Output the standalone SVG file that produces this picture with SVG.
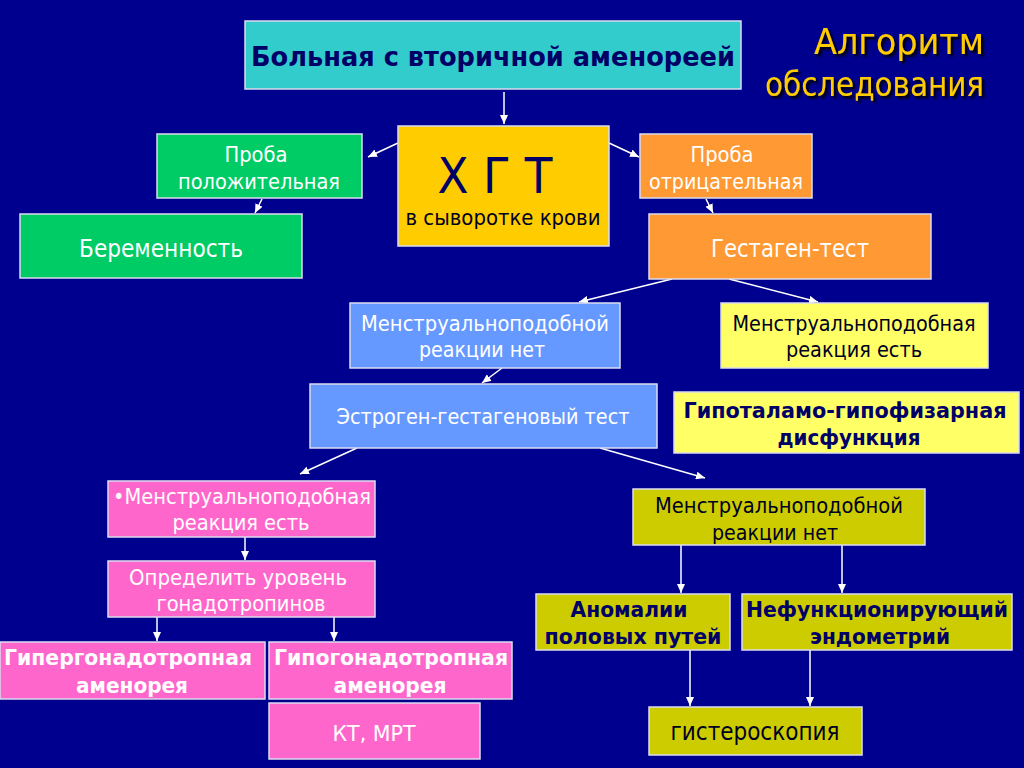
<svg xmlns="http://www.w3.org/2000/svg" width="1024" height="768" viewBox="0 0 1024 768">
<defs>
<marker id="ah" markerUnits="userSpaceOnUse" markerWidth="9" markerHeight="8" refX="9" refY="4" orient="auto">
<path d="M0,0 L9,4 L0,8 z" fill="#ffffff"/>
</marker>
<filter id="sh" x="-10%" y="-20%" width="130%" height="150%">
<feDropShadow dx="2.5" dy="2.5" stdDeviation="0.8" flood-color="#000000" flood-opacity="1"/>
</filter>
</defs>
<style>
.bx{stroke:#dcdcf0;stroke-width:1.5}
.t{font-family:"DejaVu Sans","Noto Sans",sans-serif;text-anchor:middle}
.r19{font-size:21px}
.r22{font-size:24px}
.b20{font-size:21px;font-weight:bold}
.w{fill:#ffffff}
.n{fill:#000066}
.k{fill:#000022}
.cn{stroke:#ffffff;stroke-width:1.5;fill:none;marker-end:url(#ah)}
</style>
<rect width="1024" height="768" fill="#00008e"/>

<g id="title" filter="url(#sh)">
<text class="t" x="984" y="54" style="text-anchor:end;font-size:36px" fill="#ffcc00" textLength="170" lengthAdjust="spacingAndGlyphs">Алгоритм</text>
<text class="t" x="984" y="96" style="text-anchor:end;font-size:33px" fill="#ffcc00" textLength="219" lengthAdjust="spacingAndGlyphs">обследования</text>
</g>

<g id="connectors">
<line class="cn" x1="504" y1="92" x2="504" y2="124"/>
<line class="cn" x1="398" y1="143" x2="368" y2="157"/>
<line class="cn" x1="609" y1="143" x2="639" y2="157"/>
<line class="cn" x1="262" y1="199" x2="255" y2="213"/>
<line class="cn" x1="706" y1="199" x2="713" y2="213"/>
<line class="cn" x1="672" y1="279" x2="579" y2="302"/>
<line class="cn" x1="729" y1="279" x2="818" y2="302"/>
<line class="cn" x1="502" y1="368" x2="482" y2="383"/>
<line class="cn" x1="357" y1="448" x2="300" y2="474"/>
<line class="cn" x1="600" y1="448" x2="705" y2="478"/>
<line class="cn" x1="245" y1="537" x2="245" y2="560"/>
<line class="cn" x1="157" y1="617" x2="157" y2="641"/>
<line class="cn" x1="334" y1="617" x2="334" y2="641"/>
<line class="cn" x1="681" y1="545" x2="681" y2="593"/>
<line class="cn" x1="842" y1="545" x2="842" y2="593"/>
<line class="cn" x1="690" y1="650" x2="690" y2="706"/>
<line class="cn" x1="810" y1="650" x2="810" y2="706"/>
</g>

<g id="n1">
<rect class="bx" x="245" y="21" width="496" height="68" fill="#33cccc"/>
<text class="t n" x="493" y="66" style="font-size:27px;font-weight:bold" textLength="484" lengthAdjust="spacingAndGlyphs">Больная с вторичной аменореей</text>
</g>
<g id="n2">
<rect class="bx" x="398" y="126" width="211" height="120" fill="#ffcc00"/>
<text class="t n" x="495" y="193" style="font-size:50px" textLength="115" lengthAdjust="spacingAndGlyphs">Х Г Т</text>
<text class="t k" x="503" y="225" style="font-size:21px" textLength="195" lengthAdjust="spacingAndGlyphs">в сыворотке крови</text>
</g>
<g id="n3">
<rect class="bx" x="157" y="134" width="205" height="64" fill="#00cc66"/>
<text class="t r19 w" x="256" y="162" textLength="63" lengthAdjust="spacingAndGlyphs">Проба</text>
<text class="t r19 w" x="259" y="189" textLength="162" lengthAdjust="spacingAndGlyphs">положительная</text>
</g>
<g id="n4">
<rect class="bx" x="20" y="214" width="282" height="64" fill="#00cc66"/>
<text class="t r22 w" x="161" y="257" textLength="164" lengthAdjust="spacingAndGlyphs">Беременность</text>
</g>
<g id="n5">
<rect class="bx" x="640" y="134" width="172" height="64" fill="#ff9933"/>
<text class="t r19 w" x="722" y="162" textLength="63" lengthAdjust="spacingAndGlyphs">Проба</text>
<text class="t r19 w" x="726" y="189" textLength="154" lengthAdjust="spacingAndGlyphs">отрицательная</text>
</g>
<g id="n6">
<rect class="bx" x="649" y="214" width="282" height="65" fill="#ff9933"/>
<text class="t r22 w" x="790" y="257" textLength="158" lengthAdjust="spacingAndGlyphs">Гестаген-тест</text>
</g>
<g id="n7">
<rect class="bx" x="350" y="303" width="270" height="65" fill="#6699ff"/>
<text class="t r19 w" x="485" y="331" textLength="248" lengthAdjust="spacingAndGlyphs">Менструальноподобной</text>
<text class="t r19 w" x="482" y="357" textLength="126" lengthAdjust="spacingAndGlyphs">реакции нет</text>
</g>
<g id="n8">
<rect class="bx" x="721" y="303" width="267" height="65" fill="#ffff66"/>
<text class="t r19 k" x="854" y="331" textLength="243" lengthAdjust="spacingAndGlyphs">Менструальноподобная</text>
<text class="t r19 k" x="854" y="357" textLength="136" lengthAdjust="spacingAndGlyphs">реакция есть</text>
</g>
<g id="n9">
<rect class="bx" x="310" y="384" width="347" height="64" fill="#6699ff"/>
<text class="t r19 w" x="483" y="424" textLength="293" lengthAdjust="spacingAndGlyphs">Эстроген-гестагеновый тест</text>
</g>
<g id="n10">
<rect class="bx" x="674" y="392" width="345" height="61" fill="#ffff66"/>
<text class="t b20 n" x="845" y="418" textLength="323" lengthAdjust="spacingAndGlyphs">Гипоталамо-гипофизарная</text>
<text class="t b20 n" x="849" y="445" textLength="143" lengthAdjust="spacingAndGlyphs">дисфункция</text>
</g>
<g id="n11">
<rect class="bx" x="108" y="481" width="267" height="56" fill="#ff66cc"/>
<text class="t r19 w" x="242" y="504" textLength="258" lengthAdjust="spacingAndGlyphs">•Менструальноподобная</text>
<text class="t r19 w" x="241" y="530" textLength="137" lengthAdjust="spacingAndGlyphs">реакция есть</text>
</g>
<g id="n12">
<rect class="bx" x="108" y="561" width="267" height="56" fill="#ff66cc"/>
<text class="t r19 w" x="238" y="585" textLength="218" lengthAdjust="spacingAndGlyphs">Определить уровень</text>
<text class="t r19 w" x="241" y="611" textLength="169" lengthAdjust="spacingAndGlyphs">гонадотропинов</text>
</g>
<g id="n13">
<rect class="bx" x="0" y="642" width="265" height="57" fill="#ff66cc"/>
<text class="t b20 w" x="128" y="665" textLength="248" lengthAdjust="spacingAndGlyphs">Гипергонадотропная</text>
<text class="t b20 w" x="132" y="693" textLength="112" lengthAdjust="spacingAndGlyphs">аменорея</text>
</g>
<g id="n14">
<rect class="bx" x="269" y="642" width="243" height="57" fill="#ff66cc"/>
<text class="t b20 w" x="391" y="665" textLength="234" lengthAdjust="spacingAndGlyphs">Гипогонадотропная</text>
<text class="t b20 w" x="390" y="693" textLength="113" lengthAdjust="spacingAndGlyphs">аменорея</text>
</g>
<g id="n15">
<rect class="bx" x="269" y="703" width="211" height="56" fill="#ff66cc"/>
<text class="t r19 w" x="374" y="741" textLength="83" lengthAdjust="spacingAndGlyphs">КТ, МРТ</text>
</g>
<g id="n16">
<rect class="bx" x="633" y="489" width="292" height="56" fill="#cccc00"/>
<text class="t r19 k" x="779" y="513" textLength="248" lengthAdjust="spacingAndGlyphs">Менструальноподобной</text>
<text class="t r19 k" x="775" y="540" textLength="126" lengthAdjust="spacingAndGlyphs">реакции нет</text>
</g>
<g id="n17">
<rect class="bx" x="536" y="594" width="194" height="56" fill="#cccc00"/>
<text class="t b20 n" x="629" y="617" textLength="117" lengthAdjust="spacingAndGlyphs">Аномалии</text>
<text class="t b20 n" x="633" y="644" textLength="177" lengthAdjust="spacingAndGlyphs">половых путей</text>
</g>
<g id="n18">
<rect class="bx" x="742" y="594" width="270" height="56" fill="#cccc00"/>
<text class="t b20 n" x="877" y="617" textLength="262" lengthAdjust="spacingAndGlyphs">Нефункционирующий</text>
<text class="t b20 n" x="880" y="644" textLength="140" lengthAdjust="spacingAndGlyphs">эндометрий</text>
</g>
<g id="n19">
<rect class="bx" x="649" y="707" width="213" height="48" fill="#cccc00"/>
<text class="t r22 k" x="755" y="740" textLength="169" lengthAdjust="spacingAndGlyphs">гистероскопия</text>
</g>
</svg>
